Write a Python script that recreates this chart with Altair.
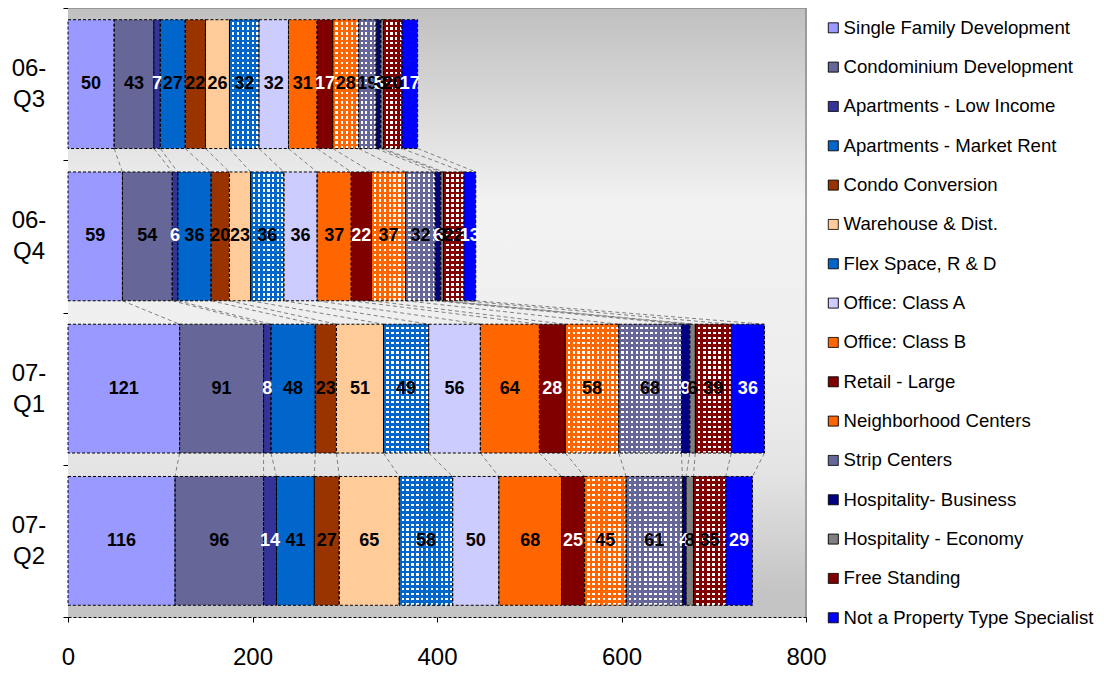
import altair as alt
import pandas as pd

periods = ["06-Q3", "06-Q4", "07-Q1", "07-Q2"]
period_labels = ["06-\nQ3", "06-\nQ4", "07-\nQ1", "07-\nQ2"]
categories = [
    "Single Family Development", "Condominium Development", "Apartments - Low Income",
    "Apartments - Market Rent", "Condo Conversion", "Warehouse & Dist.",
    "Flex Space, R & D", "Office: Class A", "Office: Class B", "Retail - Large",
    "Neighborhood Centers", "Strip Centers", "Hospitality- Business",
    "Hospitality - Economy", "Free Standing", "Not a Property Type Specialist",
]
colors = [
    "#9999FF", "#666699", "#333399", "#0066CC", "#993300", "#FFCC99",
    "#0066CC", "#CCCCFF", "#FF6600", "#800000", "#FF6600", "#666699",
    "#000080", "#808080", "#800000", "#0000FF",
]
patterned = ["Flex Space, R & D", "Neighborhood Centers", "Strip Centers", "Free Standing"]
white_text = ["Apartments - Low Income", "Retail - Large", "Hospitality- Business",
              "Not a Property Type Specialist"]

v_06q3 = [50, 43, 7, 27, 22, 26, 32, 32, 31, 17, 28, 19, 5, 3, 20, 17]
v_06q4 = [59, 54, 6, 36, 20, 23, 36, 36, 37, 22, 37, 32, 6, 3, 22, 13]
v_07q1 = [121, 91, 8, 48, 23, 51, 49, 56, 64, 28, 58, 68, 9, 6, 39, 36]
v_07q2 = [116, 96, 14, 41, 27, 65, 58, 50, 68, 25, 45, 61, 4, 8, 35, 29]
series = [v_06q3, v_06q4, v_07q1, v_07q2]

W, H = 738, 609
XMAX = 800
PAD = 0.077  # gap above/below each bar, in band units
FONT = "Liberation Sans"

rows = []
ends = []
for i, vals in enumerate(series):
    cum = 0
    e = []
    for c, v in zip(categories, vals):
        rows.append(dict(period=periods[i], idx=i, category=c, value=v,
                         start=cum, end=cum + v, mid=cum + v / 2,
                         top=i + PAD, bottom=i + 1 - PAD, ymid=i + 0.5))
        cum += v
        e.append(cum)
    ends.append(e)
df = pd.DataFrame(rows)

conn = []
for i in range(len(series) - 1):
    for c in range(len(categories)):
        conn.append(dict(start=ends[i][c], end=ends[i + 1][c], top=i + 1 - PAD, bottom=i + 1 + PAD))
conn_df = pd.DataFrame(conn)

lab_df = pd.DataFrame(dict(label=period_labels, ymid=[i + 0.5 for i in range(len(periods))]))
one = pd.DataFrame({"a": [0]})

xscale = alt.Scale(domain=[0, XMAX], nice=False, zero=False)
yscale = alt.Scale(domain=[0, 4], reverse=True, nice=False, zero=False)
xaxis = alt.Axis(values=[0, 200, 400, 600, 800], title=None, grid=False, tickSize=5,
                 tickColor="black", domainColor="black", domainDash=[3, 2], labelFontSize=24,
                 labelFont=FONT, labelColor="black", labelPadding=23, labelFlush=False,
                 labelOverlap=False, format="d")
yaxis = alt.Axis(values=[0, 1, 2, 3, 4], labels=False, title=None, grid=False, tickSize=5,
                 tickColor="black", domainColor="black", domainDash=[3, 2])


def X(field):
    return alt.X(field, type="quantitative", scale=xscale, axis=xaxis)


def Y(field):
    return alt.Y(field, type="quantitative", scale=yscale, axis=yaxis)


def hstops(color, n, frac):
    stops = []
    for k in range(n):
        a, b, c2 = k / n, (k + frac) / n, (k + 1) / n
        stops += [dict(offset=a, color=color), dict(offset=b, color=color),
                  dict(offset=b, color="rgba(255,255,255,0)"), dict(offset=c2, color="rgba(255,255,255,0)")]
    return dict(gradient="linear", x1=0, y1=0, x2=0, y2=1, stops=stops)


def vstops(color, n, frac):
    stops = []
    for k in range(n):
        a, b, c2 = k / n, (k + frac) / n, (k + 1) / n
        stops += [dict(offset=a, color=color), dict(offset=b, color=color),
                  dict(offset=b, color="#FFFFFF"), dict(offset=c2, color="#FFFFFF")]
    return dict(gradient="linear", x1=0, y1=0, x2=1, y2=0, stops=stops)


bg_grad = dict(gradient="linear", x1=0, y1=0, x2=0, y2=1, stops=[
    dict(offset=0, color="#C0C0C0"), dict(offset=0.32, color="#F2F2F2"),
    dict(offset=0.6, color="#EEEEEE"), dict(offset=0.76, color="#E4E4E4"),
    dict(offset=0.96, color="#C4C4C4"), dict(offset=1, color="#C4C4C4")])

background = alt.Chart(one).mark_rect(fill=bg_grad).encode(
    x=alt.value(0), x2=alt.value(W), y=alt.value(0), y2=alt.value(H))
border_top = alt.Chart(one).mark_rule(color="#888888", strokeWidth=1.5).encode(
    x=alt.value(0), x2=alt.value(W), y=alt.value(0))
border_right = alt.Chart(one).mark_rule(color="#888888", strokeWidth=1.5).encode(
    x=alt.value(W), y=alt.value(0), y2=alt.value(H))

bars = alt.Chart(df).mark_rect(strokeWidth=0).encode(
    x=X("start"), x2="end", y=Y("top"), y2="bottom",
    color=alt.Color("category:N", scale=alt.Scale(domain=categories, range=colors),
                    sort=categories,
                    legend=alt.Legend(title=None, orient="none", legendX=756, legendY=10.5,
                                      symbolType="square", symbolSize=100,
                                      symbolStrokeColor="black", symbolStrokeWidth=1,
                                      symbolDash=[1, 0], symbolOpacity=1,
                                      labelFontSize=18.6, labelFont=FONT, labelColor="black",
                                      rowPadding=20.33, labelOffset=1, padding=0,
                                      labelLimit=300)),
)

connectors = alt.Chart(conn_df).mark_rule(color="#808080", strokeDash=[4, 3], strokeWidth=1).encode(
    x=X("start"), x2="end", y=Y("top"), y2="bottom")

layers = [background, border_top, border_right, bars, connectors]

PITCH = 5.0
FRAC = 0.5
px_per_unit = W / XMAX
bar_px_h = (1 - 2 * PAD) * H / 4
for cat in patterned:
    color = colors[categories.index(cat)]
    for i, p in enumerate(periods):
        v = series[i][categories.index(cat)]
        n = max(1, round(v * px_per_unit / PITCH))
        layers.append(
            alt.Chart(df).transform_filter(
                (alt.datum.category == cat) & (alt.datum.period == p)
            ).mark_rect(fill=vstops(color, n, FRAC), strokeWidth=0).encode(
                x=X("start"), x2="end", y=Y("top"), y2="bottom"))
    nh = max(1, round(bar_px_h / PITCH))
    layers.append(
        alt.Chart(df).transform_filter(alt.datum.category == cat).mark_rect(
            fill=hstops(color, nh, FRAC), strokeWidth=0).encode(
            x=X("start"), x2="end", y=Y("top"), y2="bottom"))

outlines = alt.Chart(df).mark_rect(fillOpacity=0, stroke="black", strokeDash=[3, 2],
                                   strokeWidth=1).encode(
    x=X("start"), x2="end", y=Y("top"), y2="bottom")

labels = alt.Chart(df).mark_text(fontSize=18, fontWeight="bold", font=FONT,
                                 align="center", baseline="middle").encode(
    x=X("mid"), y=Y("ymid"),
    text="value:Q",
    color=alt.condition(alt.FieldOneOfPredicate(field="category", oneOf=white_text),
                        alt.value("white"), alt.value("black")))

ylabels = alt.Chart(lab_df).mark_text(fontSize=24, font=FONT, lineBreak="\n", lineHeight=31,
                                      align="center", baseline="middle", dy=-15,
                                      color="black").encode(
    x=alt.value(-39), y=Y("ymid"), text="label:N")

layers += [outlines, labels, ylabels]

chart = alt.layer(*layers).properties(
    width=W, height=H,
    autosize=alt.AutoSizeParams(type="none"),
    padding={"left": 60, "top": 0, "right": 288, "bottom": 52},
).configure_view(stroke=None).configure(background="white")

chart.save("out.html", embed_options={"renderer": "svg", "actions": False})
